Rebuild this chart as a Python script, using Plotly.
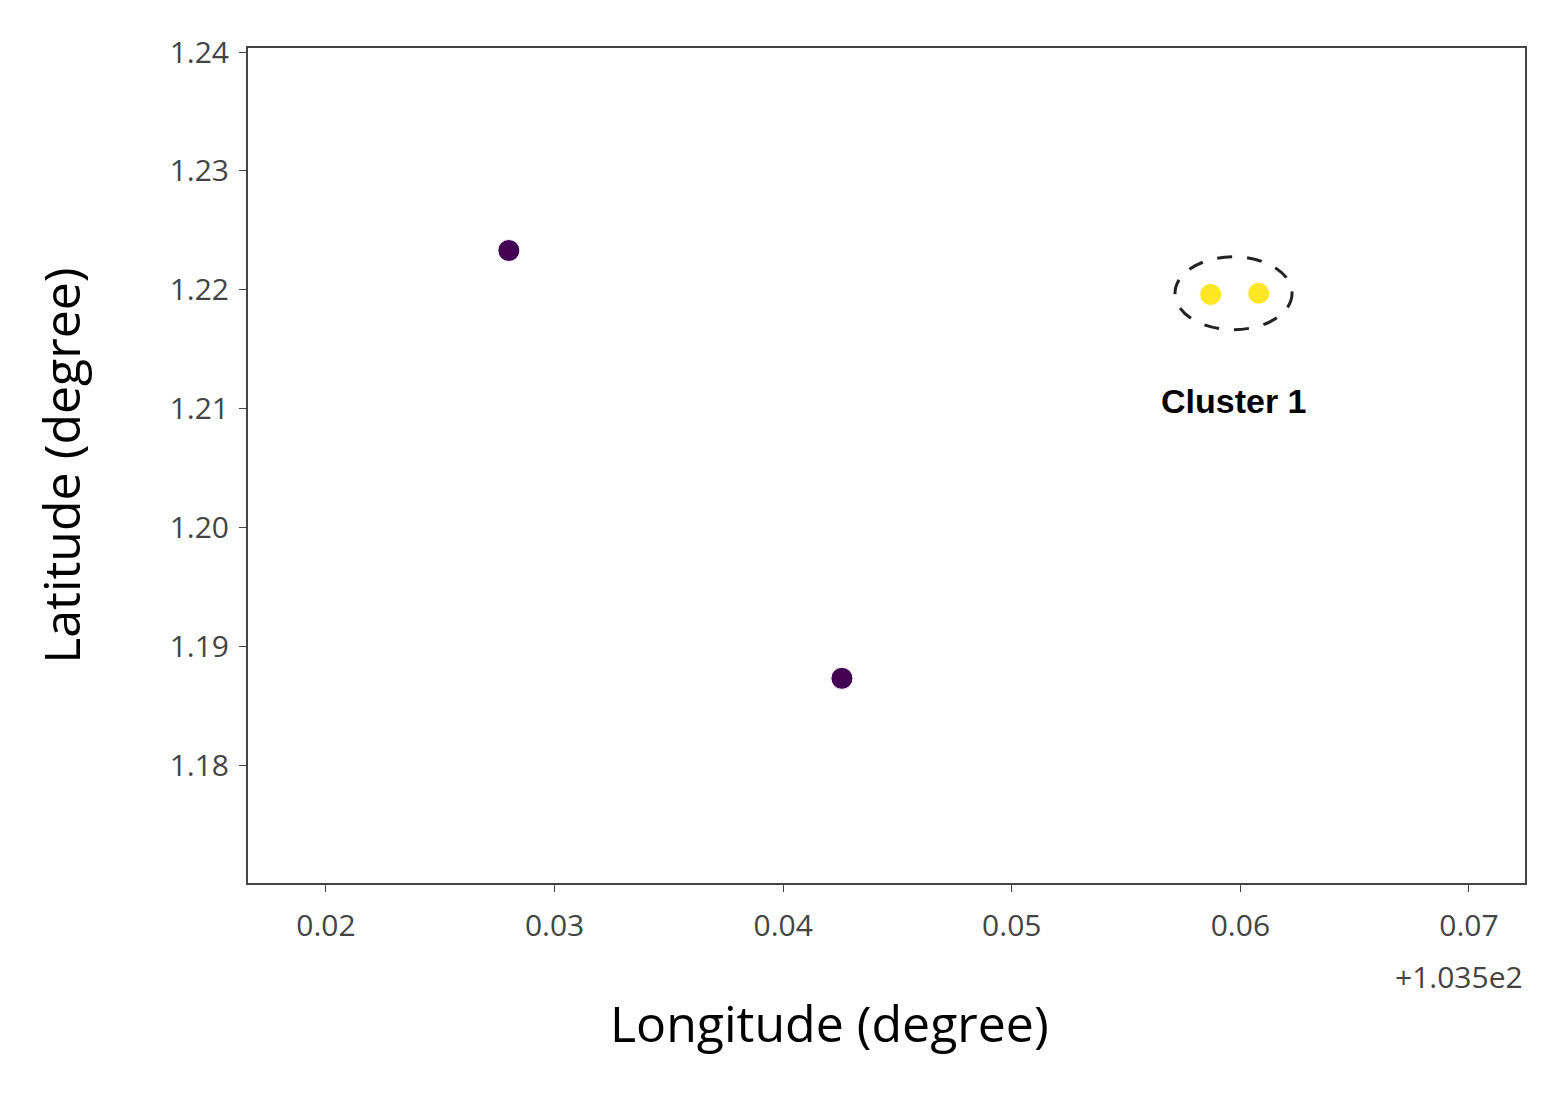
import plotly.graph_objects as go

lon_offset = [0.0280, 0.04257, 0.0587, 0.0608]
lat = [1.2233, 1.1873, 1.2196, 1.2197]
colors = ["#440154", "#440154", "#fde725", "#fde725"]
xticks = [0.02, 0.03, 0.04, 0.05, 0.06, 0.07]
yticks = [1.18, 1.19, 1.20, 1.21, 1.22, 1.23, 1.24]

fig = go.Figure(go.Scatter(x=lon_offset, y=lat, mode="markers",
                           marker=dict(color=colors, size=22, line=dict(color="white", width=1))))
fig.add_shape(type="circle", xref="x", yref="y", x0=0.05714, x1=0.06226, y0=1.21664, y1=1.22277,
              line=dict(color="#222", width=3, dash="longdash"))
fig.add_annotation(x=0.0597, y=1.2106, text="<b>Cluster 1</b>", showarrow=False,
                   font=dict(family="Liberation Sans", size=34, color="black"))
fig.add_annotation(xref="paper", yref="paper", x=1.0, y=-0.085, xanchor="right", yanchor="top",
                   text="+1.035e2", showarrow=False, font=dict(family="Open Sans", size=30, color="#444"))
fig.add_annotation(xref="paper", yref="paper", x=0.455, y=-0.125, xanchor="center", yanchor="top",
                   text="Longitude (degree)", showarrow=False, font=dict(family="Open Sans", size=50, color="black"))
fig.add_annotation(xref="paper", yref="paper", x=-0.147, y=0.5, xanchor="center", yanchor="middle", textangle=-90,
                   text="Latitude (degree)", showarrow=False, font=dict(family="Open Sans", size=50, color="black"))
axis = dict(showgrid=False, zeroline=False, showline=True, linecolor="#444", linewidth=2, mirror=True,
            ticks="outside", ticklen=7, tickcolor="#444", tickfont=dict(family="Open Sans", size=30, color="#444"))
fig.update_xaxes(**axis, range=[0.01659, 0.07245], tickvals=xticks, ticktext=[f"{v:.2f}" for v in xticks],
                 ticklabelstandoff=8)
fig.update_yaxes(**axis, range=[1.17008, 1.24034], tickvals=yticks, ticktext=[f"{v:.2f}" for v in yticks],
                 ticklabelstandoff=4)
fig.update_layout(width=1540, height=1083, margin=dict(l=240, r=23, t=40, b=208),
                  plot_bgcolor="white", paper_bgcolor="white", showlegend=False)
fig.write_html("out.html")
